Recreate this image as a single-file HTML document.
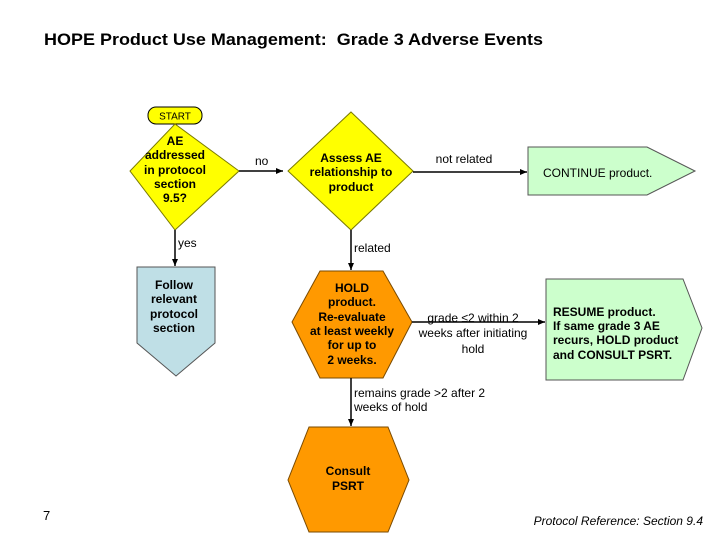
<!DOCTYPE html>
<html><head><style>
body{margin:0;background:#fff;}
svg{display:block;font-family:"Liberation Sans",Arial,sans-serif;}
</style></head><body>
<svg width="720" height="540" viewBox="0 0 720 540">
<defs><marker id="a" markerWidth="8" markerHeight="8" refX="7" refY="4" orient="auto" markerUnits="userSpaceOnUse"><path d="M0,1 L7,4 L0,7z" fill="#000"/></marker></defs>
<text x="44" y="45" font-size="16.5" font-weight="bold" style="white-space:pre" textLength="499" lengthAdjust="spacingAndGlyphs">HOPE Product Use Management:  Grade 3 Adverse Events</text>
<rect x="148" y="107" width="54" height="17" rx="8" fill="#ffff00" stroke="#000" stroke-width="1"/>
<text x="175" y="119.5" font-size="10" text-anchor="middle">START</text>
<polygon points="175,124 239,171 175,230 130,171" fill="#ffff00" stroke="#7a7a00" stroke-width="1"/>
<g font-size="12" font-weight="bold" text-anchor="middle">
<text x="175" y="145">AE</text><text x="175" y="159">addressed</text><text x="175" y="174">in protocol</text><text x="175" y="188">section</text><text x="175" y="202">9.5?</text>
</g>
<line x1="239" y1="171" x2="283" y2="171" stroke="#000" stroke-width="1.5" marker-end="url(#a)"/>
<text x="255" y="165" font-size="12">no</text>
<polygon points="351,112 413,171 351,230 288,171" fill="#ffff00" stroke="#7a7a00" stroke-width="1"/>
<g font-size="12" font-weight="bold" text-anchor="middle">
<text x="351" y="162">Assess AE</text><text x="351" y="176">relationship to</text><text x="351" y="191">product</text>
</g>
<line x1="413" y1="172" x2="527" y2="172" stroke="#000" stroke-width="1.5" marker-end="url(#a)"/>
<text x="464" y="163" font-size="12" text-anchor="middle">not related</text>
<polygon points="528,147 647,147 695,171 647,195 528,195" fill="#ccffcc" stroke="#555" stroke-width="1"/>
<text x="543" y="177" font-size="12">CONTINUE product.</text>
<line x1="175" y1="230" x2="175" y2="266" stroke="#000" stroke-width="1.5" marker-end="url(#a)"/>
<text x="178" y="247" font-size="12">yes</text>
<polygon points="137,267 215,267 215,343 176,376 137,343" fill="#bfdfe6" stroke="#555" stroke-width="1"/>
<g font-size="12" font-weight="bold" text-anchor="middle">
<text x="174" y="289">Follow</text><text x="174" y="303">relevant</text><text x="174" y="318">protocol</text><text x="174" y="332">section</text>
</g>
<line x1="351" y1="230" x2="351" y2="270" stroke="#000" stroke-width="1.5" marker-end="url(#a)"/>
<text x="354" y="252" font-size="12">related</text>
<polygon points="320,271 383,271 412,322 383,378 320,378 292,322" fill="#ff9900" stroke="#7a4a00" stroke-width="1"/>
<g font-size="12" font-weight="bold" text-anchor="middle">
<text x="352" y="292">HOLD</text><text x="352" y="306">product.</text><text x="352" y="321">Re-evaluate</text><text x="352" y="335">at least weekly</text><text x="352" y="349">for up to</text><text x="352" y="364">2 weeks.</text>
</g>
<line x1="412" y1="322" x2="545" y2="322" stroke="#000" stroke-width="1.5" marker-end="url(#a)"/>
<g font-size="12" text-anchor="middle">
<text x="473" y="322">grade ≤2 within 2</text><text x="473" y="337">weeks after initiating</text><text x="473" y="353">hold</text>
</g>
<polygon points="546,279 683,279 702,328 683,380 546,380" fill="#ccffcc" stroke="#555" stroke-width="1"/>
<g font-size="12" font-weight="bold">
<text x="553" y="316">RESUME product.</text><text x="553" y="330">If same grade 3 AE</text><text x="553" y="344">recurs, HOLD product</text><text x="553" y="359">and CONSULT PSRT.</text>
</g>
<line x1="351" y1="378" x2="351" y2="426" stroke="#000" stroke-width="1.5" marker-end="url(#a)"/>
<text x="354" y="397" font-size="12">remains grade &gt;2 after 2</text>
<text x="354" y="411" font-size="12">weeks of hold</text>
<polygon points="309,427 388,427 409,480 388,532 309,532 288,480" fill="#ff9900" stroke="#7a4a00" stroke-width="1"/>
<g font-size="12" font-weight="bold" text-anchor="middle">
<text x="348" y="475">Consult</text><text x="348" y="490">PSRT</text>
</g>
<text x="43" y="520" font-size="13">7</text>
<text x="703" y="525" font-size="12" font-style="italic" text-anchor="end">Protocol Reference:  Section 9.4</text>
</svg>
</body></html>
